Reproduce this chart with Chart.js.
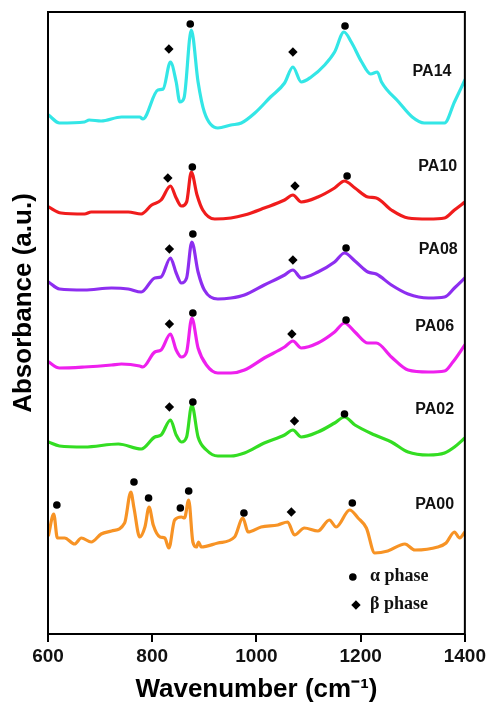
<!DOCTYPE html>
<html>
<head>
<meta charset="utf-8">
<script src="https://cdn.jsdelivr.net/npm/chart.js@4.4.1/dist/chart.umd.min.js"></script>
<style>
  html, body { margin: 0; padding: 0; background: #fff; }
  #wrap { width: 489px; height: 705px; }
</style>
</head>
<body>
<div id="wrap"><canvas id="chart" width="489" height="705"></canvas></div>
<script>
// spectra, offset (a.u.)
const wnPA14 = [601, 622, 670, 679, 702, 741, 776, 782, 811, 821, 835, 846, 853, 861, 875, 888, 900, 926, 951, 971, 997, 1027, 1054, 1070, 1086, 1105, 1131, 1150, 1168, 1182, 1202, 1219, 1232, 1240, 1273, 1299, 1322, 1361, 1380, 1400];
const absPA14 = [518, 510, 511, 513, 512, 516, 516, 514, 543, 544, 571, 551, 531, 535, 603, 551, 521, 505, 508, 510, 520, 536, 550, 566, 551, 556, 568, 581, 601, 591, 571, 559, 561, 551, 531, 516, 510, 510, 531, 553];

const wnPA10 = [601, 625, 670, 683, 722, 754, 779, 799, 817, 835, 846, 856, 866, 875, 886, 897, 920, 951, 977, 1015, 1054, 1070, 1086, 1118, 1150, 1169, 1189, 1214, 1230, 1259, 1291, 1330, 1361, 1380, 1400];
const absPA10 = [426, 420, 419, 421, 421, 421, 419, 428, 433, 447, 435, 427, 431, 461, 438, 423, 414, 415, 418, 425, 433, 438, 431, 436, 445, 452, 445, 436, 435, 423, 415, 414, 415, 423, 431];

const wnPA08 = [601, 622, 670, 722, 754, 779, 805, 817, 835, 846, 856, 866, 876, 888, 900, 926, 951, 977, 1015, 1054, 1070, 1086, 1118, 1150, 1169, 1189, 1214, 1230, 1259, 1291, 1330, 1361, 1380, 1400];
const absPA08 = [351, 344, 343, 345, 344, 341, 355, 356, 375, 360, 350, 355, 391, 361, 343, 334, 335, 338, 348, 358, 363, 355, 361, 371, 380, 372, 361, 359, 348, 339, 335, 336, 345, 355];

const wnPA06 = [601, 622, 670, 722, 741, 776, 782, 805, 817, 835, 846, 856, 866, 876, 888, 904, 926, 951, 977, 1015, 1054, 1070, 1086, 1118, 1150, 1169, 1189, 1214, 1230, 1259, 1291, 1330, 1361, 1377, 1400];
const absPA06 = [271, 265, 266, 268, 269, 267, 266, 281, 283, 299, 283, 276, 281, 315, 285, 268, 260, 260, 263, 275, 286, 292, 285, 290, 301, 310, 301, 290, 290, 276, 263, 261, 262, 271, 288];

const wnPA02 = [601, 622, 670, 735, 779, 805, 817, 835, 846, 856, 866, 876, 888, 904, 926, 951, 977, 1015, 1054, 1070, 1086, 1118, 1150, 1169, 1189, 1227, 1259, 1291, 1330, 1361, 1380, 1400];
const absPA02 = [191, 187, 186, 189, 184, 196, 198, 213, 198, 191, 196, 228, 196, 183, 177, 177, 180, 190, 198, 203, 196, 201, 210, 216, 208, 198, 191, 181, 178, 180, 186, 195];

const wnPA00 = [601, 611, 618, 632, 651, 664, 683, 702, 722, 747, 759, 765, 776, 786, 794, 802, 815, 824, 832, 843, 856, 862, 870, 878, 885, 889, 894, 926, 958, 974, 984, 1009, 1041, 1060, 1073, 1092, 1118, 1140, 1153, 1179, 1195, 1211, 1227, 1252, 1285, 1304, 1348, 1364, 1380, 1390, 1400];
const absPA00 = [98, 119, 95, 95, 89, 95, 91, 99, 102, 110, 141, 125, 96, 106, 126, 108, 96, 95, 85, 113, 116, 115, 133, 91, 86, 91, 86, 90, 96, 115, 101, 106, 108, 111, 98, 105, 102, 113, 106, 123, 115, 105, 80, 82, 89, 83, 86, 90, 101, 95, 101];

// peak markers
const alphaX = [873, 1170, 877, 1174, 878, 1172, 878, 1172, 878, 1169, 617, 765, 793, 854, 870, 976, 1184];
const alphaY = [609, 607, 466, 457, 399, 385, 320, 313, 231, 219, 128, 151, 135, 125, 142, 120, 130];
const betaX = [832, 1070, 830, 1074, 833, 1070, 833, 1068, 833, 1073, 1067];
const betaY = [584, 581, 455, 447, 384, 373, 309, 299, 226, 212, 121];

const sampleNames = ['PA14', 'PA10', 'PA08', 'PA06', 'PA02', 'PA00'];
const sampleColors = ['#33e6e6', '#f01c1c', '#8d2ef0', '#ee20ee', '#33dd22', '#f79325'];
const xTicks = [600, 800, 1000, 1200, 1400];

// where the sample names and the phase key sit, in data units
const nameX = [1337, 1348, 1349, 1342, 1342, 1342];
const nameY = [561, 466, 383, 306, 223, 128];
const keyX = [1185, 1191];
const keyY = [56, 28];
const keyText = ['\u03b1 phase', '\u03b2 phase'];

function pairs(xs, ys) {
  return xs.map((x, i) => ({ x: x, y: ys[i] }));
}

const spectra = [
  [wnPA14, absPA14], [wnPA10, absPA10], [wnPA08, absPA08],
  [wnPA06, absPA06], [wnPA02, absPA02], [wnPA00, absPA00]
];

const datasets = [
  {
    label: 'alpha', data: pairs(alphaX, alphaY), showLine: false,
    pointStyle: 'circle', pointRadius: 3.8, backgroundColor: '#000', borderColor: '#000', borderWidth: 0
  },
  {
    label: 'beta', data: pairs(betaX, betaY), showLine: false,
    pointStyle: 'rectRot', pointRadius: 4.7, backgroundColor: '#000', borderColor: '#000', borderWidth: 0
  },
  {
    label: 'key', data: [{ x: keyX[0], y: keyY[0] }, { x: keyX[1], y: keyY[1] }], showLine: false,
    pointStyle: ['circle', 'rectRot'], pointRadius: [3.8, 4.7], backgroundColor: '#000', borderColor: '#000', borderWidth: 0
  }
];
spectra.forEach((s, i) => {
  datasets.push({
    label: sampleNames[i],
    data: pairs(s[0], s[1]),
    showLine: true,
    borderColor: sampleColors[i],
    borderWidth: 3.2,
    borderJoinStyle: 'round',
    borderCapStyle: 'round',
    pointRadius: 0,
    fill: false,
    cubicInterpolationMode: 'monotone'
  });
});

const textPlugin = {
  id: 'texts',
  afterDatasetsDraw(chart) {
    const ctx = chart.ctx, xs = chart.scales.x, ys = chart.scales.y;
    const a = chart.chartArea;
    ctx.save();
    ctx.strokeStyle = '#000';
    ctx.lineWidth = 2;
    ctx.strokeRect(a.left, a.top, a.right - a.left, a.bottom - a.top);
    ctx.fillStyle = '#111';
    ctx.textBaseline = 'middle';
    ctx.textAlign = 'center';
    ctx.font = 'bold 16px "Liberation Sans", Arial, sans-serif';
    sampleNames.forEach((n, i) => {
      ctx.fillText(n, xs.getPixelForValue(nameX[i]), ys.getPixelForValue(nameY[i]));
    });
    ctx.textAlign = 'left';
    ctx.font = 'bold 18px "Liberation Serif", "Times New Roman", serif';
    keyText.forEach((t, i) => {
      ctx.fillText(t, xs.getPixelForValue(1218), ys.getPixelForValue(keyY[i] + 1));
    });
    // y axis title sits a little above the middle of the frame
    ctx.fillStyle = '#000';
    ctx.textAlign = 'center';
    ctx.font = 'bold 26px "Liberation Sans", Arial, sans-serif';
    ctx.translate(a.left - 24, ys.getPixelForValue(330));
    ctx.rotate(-Math.PI / 2);
    ctx.fillText('Absorbance (a.u.)', 0, 0);
    ctx.restore();
  }
};

var ctx = document.getElementById('chart').getContext('2d');
var mychart = new Chart(ctx, {
  type: 'scatter',
  data: { datasets: datasets },
  options: {
    responsive: false,
    animation: false,
    layout: { padding: { left: 0, right: 24, top: 12, bottom: 0 } },
    plugins: { legend: { display: false }, tooltip: { enabled: false } },
    scales: {
      x: {
        type: 'linear', min: 600, max: 1400,
        afterBuildTicks: s => { s.ticks = xTicks.map(v => ({ value: v })); },
        afterFit: s => { s.height = 71; },
        ticks: {
          color: '#111', padding: 3,
          callback: v => String(v),
          font: { family: '"Liberation Sans", Arial, sans-serif', size: 19, weight: 'bold' }
        },
        grid: { display: true, drawOnChartArea: false, color: '#000', lineWidth: 2, tickLength: 8 },
        border: { display: false },
        title: {
          display: true, text: 'Wavenumber (cm\u207b\u00b9)', color: '#000',
          font: { family: '"Liberation Sans", Arial, sans-serif', size: 26, weight: 'bold' },
          padding: { top: 0, bottom: 0 }
        }
      },
      y: {
        type: 'linear', min: -1, max: 621,
        afterFit: s => { s.width = 48; },
        ticks: { display: false },
        grid: { display: false },
        border: { display: false },
        title: { display: false }
      }
    }
  },
  plugins: [textPlugin]
});
</script>
</body>
</html>
